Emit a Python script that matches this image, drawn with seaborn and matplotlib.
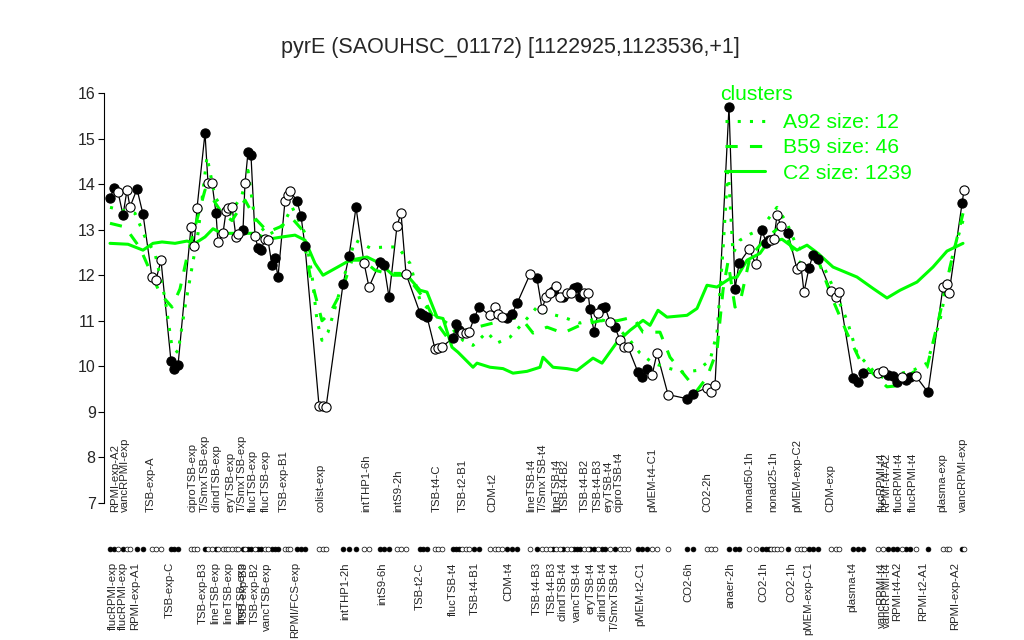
import matplotlib
matplotlib.use("Agg")
import matplotlib.pyplot as plt
import seaborn as sns
from matplotlib.lines import Line2D

# sample position along the x axis, expression value, filled (1) / open (0)
pos = [110, 114, 118, 123, 127, 130, 137, 143,
       152, 156, 161,
       171, 174, 178,
       191, 194, 197,
       205, 208, 212, 216, 218, 223, 226, 228, 232, 236, 238, 243, 245, 248, 251,
       255, 258, 261, 265, 268, 272, 275, 278,
       285, 288, 290,
       297, 301, 305,
       319, 323, 326,
       343, 349, 356,
       364, 369,
       380, 384, 389,
       397, 401, 406,
       420, 423, 427,
       435, 438, 442,
       453, 456, 459, 462, 466, 469, 474, 479,
       490, 495, 498, 502, 507, 512, 517,
       530,
       537, 542, 546, 550, 553, 556, 560, 563, 567, 571, 574, 577, 580, 584, 588,
       590, 594, 598, 602, 605, 610, 615, 620, 624, 628,
       638, 642, 647, 652, 657,
       668,
       687, 693,
       707, 711, 715,
       729, 735, 739,
       749, 756,
       762, 766, 769,
       771, 774, 777, 781,
       788,
       797, 801, 804,
       809, 813, 818,
       831, 836, 839,
       853, 858, 863,
       878, 883, 888, 893, 897, 902, 906, 910, 916,
       928,
       943, 947, 949,
       962, 964]
expr = [13.69, 13.91, 13.83, 13.32, 13.87, 13.50, 13.89, 13.34,
        11.96, 11.90, 12.33,
        10.11, 9.95, 10.02,
        13.06, 12.64, 13.47,
        15.12, 14.03, 14.03, 13.36, 12.72, 12.92, 13.40, 13.47, 13.50, 12.84, 12.90, 12.99, 14.02, 14.70, 14.63,
        12.86, 12.60, 12.55, 12.79, 12.77, 12.22, 12.37, 11.96,
        13.63, 13.76, 13.85,
        13.63, 13.30, 12.64,
        9.14, 9.12, 9.10,
        11.80, 12.42, 13.49,
        12.27, 11.74,
        12.29, 12.22, 11.52,
        13.08, 13.37, 12.03,
        11.17, 11.13, 11.09,
        10.38, 10.40, 10.43,
        10.62, 10.92, 10.80, 10.73, 10.73, 10.75, 11.05, 11.30,
        11.12, 11.30, 11.14, 11.08, 11.05, 11.14, 11.38,
        12.02,
        11.93, 11.26, 11.52, 11.60, 11.65, 11.76, 11.52, 11.52, 11.60, 11.62, 11.72, 11.74, 11.52, 11.60, 11.62,
        11.26, 10.76, 11.17, 11.28, 11.30, 10.98, 10.86, 10.57, 10.42, 10.42,
        9.87, 9.76, 9.95, 9.80, 10.29,
        9.38,
        9.29, 9.40,
        9.53, 9.43, 9.58,
        15.70, 11.69, 12.26,
        12.57, 12.24,
        13.00, 12.71, 12.77,
        12.77, 12.80, 13.32, 13.08,
        12.92,
        12.13, 12.20, 11.63,
        12.16, 12.45, 12.36,
        11.65, 11.52, 11.63,
        9.74, 9.65, 9.85,
        9.85, 9.90, 9.80, 9.78, 9.65, 9.76, 9.69, 9.76, 9.78,
        9.43,
        11.74, 11.81, 11.60,
        13.58, 13.87]
filled = [1, 1, 0, 1, 0, 0, 1, 1,
          0, 0, 0,
          1, 1, 1,
          0, 0, 0,
          1, 0, 0, 1, 0, 0, 0, 0, 0, 0, 0, 1, 0, 1, 1,
          0, 1, 1, 0, 0, 1, 1, 1,
          0, 0, 0,
          1, 1, 1,
          0, 0, 0,
          1, 1, 1,
          0, 0,
          1, 1, 1,
          0, 0, 0,
          1, 1, 1,
          0, 0, 0,
          1, 1, 1, 0, 0, 0, 1, 1,
          0, 0, 0, 0, 1, 1, 1,
          0,
          1, 0, 0, 0, 1, 0, 0, 1, 0, 0, 1, 1, 1, 0, 0,
          1, 1, 0, 1, 1, 0, 1, 0, 0, 0,
          1, 1, 1, 0, 0,
          0,
          1, 1,
          0, 0, 0,
          1, 1, 1,
          0, 0,
          1, 1, 1,
          0, 0, 0, 0,
          1,
          0, 0, 0,
          1, 1, 1,
          0, 0, 0,
          1, 1, 1,
          0, 0, 1, 1, 1, 0, 1, 1, 0,
          1,
          0, 0, 0,
          1, 0]

# cluster profiles
c2_pos = [110, 128, 143, 153, 162, 175, 187, 195, 205, 213, 222, 242, 255, 268, 282, 295, 305, 315,
          323, 350, 367, 380, 393, 407, 420, 427, 437, 443, 452, 458, 473, 477, 490, 503, 513, 527,
          540, 543, 553, 567, 577, 593, 602, 617, 630, 643, 650, 658, 667, 687, 697, 707, 717, 730,
          737, 747, 760, 767, 782, 797, 807, 818, 833, 857, 873, 887, 900, 917, 933, 947, 963]
c2_val = [12.70, 12.68, 12.55, 12.70, 12.73, 12.70, 12.75, 12.70, 12.84, 13.02, 12.92, 12.92, 12.92,
          12.79, 12.84, 12.88, 12.77, 12.26, 12.00, 12.33, 12.40, 12.26, 12.00, 12.00, 11.67, 11.63,
          11.08, 11.05, 10.42, 10.31, 9.98, 10.07, 9.98, 9.95, 9.85, 9.89, 9.98, 10.20, 9.98, 9.95,
          9.91, 10.18, 10.07, 10.53, 10.79, 11.01, 10.90, 11.23, 11.08, 11.12, 11.27, 11.78, 11.74,
          11.93, 11.96, 12.33, 12.48, 12.70, 12.79, 12.55, 12.66, 12.48, 12.18, 11.96, 11.71, 11.50,
          11.67, 11.85, 12.18, 12.53, 12.70]

b59_pos = [110, 125, 140, 150, 160, 172, 180, 188, 195, 205, 212, 222, 232, 245, 255, 268, 280, 292,
           302, 310, 316, 322, 330, 342, 352, 363, 375, 387, 400, 410, 423, 435, 447, 460, 477, 493,
           510, 523, 533, 547, 563, 580, 600, 617, 633, 643, 660, 670, 683, 697, 707, 717, 723, 728,
           735, 740, 750, 767, 780, 788, 797, 807, 817, 833, 847, 860, 873, 887, 900, 913, 927, 940,
           950, 963]
b59_val = [13.14, 13.06, 12.60, 12.10, 11.60, 11.30, 11.70, 12.50, 13.06, 13.87, 13.70, 13.36, 13.20,
           13.65, 13.25, 12.95, 13.06, 13.25, 13.00, 12.00, 11.50, 11.00, 11.17, 11.67, 12.33, 12.33,
           12.11, 12.04, 12.04, 11.89, 11.52, 11.00, 10.64, 10.75, 10.86, 10.95, 11.08, 11.01, 10.73,
           10.86, 10.73, 10.90, 11.00, 11.00, 11.08, 10.75, 10.75, 10.20, 9.85, 9.47, 9.76, 10.35,
           11.67, 12.30, 11.30, 11.40, 12.40, 12.84, 13.06, 12.77, 12.33, 12.18, 12.40, 11.45, 10.73,
           10.13, 9.84, 9.55, 9.58, 9.87, 9.98, 11.16, 12.18, 13.36]

a92_pos = [110, 135, 145, 155, 165, 172, 178, 185, 198, 207, 215, 228, 242, 248, 255, 268, 282, 292,
           305, 312, 317, 322, 328, 343, 355, 370, 387, 398, 410, 420, 432, 447, 463, 473, 487, 497,
           510, 523, 537, 547, 563, 580, 597, 613, 630, 640, 653, 670, 683, 697, 710, 717, 723, 728,
           733, 740, 750, 760, 767, 777, 787, 797, 810, 820, 833, 847, 857, 873, 887, 900, 913, 927,
           940, 953, 963]
a92_val = [13.49, 13.36, 12.84, 12.48, 11.50, 10.42, 10.30, 11.30, 12.92, 14.60, 13.72, 13.27, 13.76,
           14.30, 13.20, 12.88, 13.06, 13.50, 12.92, 12.00, 11.00, 10.57, 10.75, 11.89, 12.77, 12.60,
           12.62, 12.62, 12.26, 11.45, 11.17, 10.95, 10.57, 10.46, 10.75, 10.51, 10.64, 10.95, 11.30,
           11.17, 11.08, 10.95, 11.05, 10.95, 10.57, 10.29, 10.07, 9.95, 9.87, 9.91, 10.13, 10.73,
           12.55, 14.40, 12.48, 12.77, 12.90, 13.00, 13.20, 13.49, 13.14, 12.62, 12.48, 12.37, 11.74,
           11.01, 10.29, 9.91, 9.69, 9.84, 9.91, 10.07, 11.01, 12.48, 13.20]

top_pos = [115, 125, 151, 192, 205, 217, 230, 242, 253, 266, 284, 321, 366, 398, 437, 463, 492,
           531, 543, 556, 565, 585, 598, 609, 619, 652, 707, 749, 773, 797, 830, 882, 886, 899,
           913, 942, 963]
top_text = ["RPMI-exp-A2", "vancRPMI-exp", "TSB-exp-A", "ciproTSB-exp", "T/SmxTSB-exp",
            "clindTSB-exp", "eryTSB-exp", "T/SmxTSB-exp", "flucTSB-exp", "flucTSB-exp",
            "TSB-exp-B1", "colist-exp", "intTHP1-6h", "intS9-2h", "TSB-t4-C", "TSB-t2-B1",
            "CDM-t2", "lineTSB-t4", "T/SmxTSB-t4", "lineTSB-t4", "TSB-t4-B2", "TSB-t4-B2",
            "TSB-t4-B3", "eryTSB-t4", "ciproTSB-t4", "pMEM-t4-C1", "CO2-2h", "nonad50-1h",
            "nonad25-1h", "pMEM-exp-C2", "CDM-exp", "flucRPMI-t4", "RPMI-t4-A2", "flucRPMI-t4",
            "flucRPMI-t4", "plasma-exp", "vancRPMI-exp"]
bot_pos = [113, 123, 135, 170, 203, 215, 228, 241, 244, 255, 267, 295, 345, 382, 420, 453, 475,
           508, 537, 552, 563, 577, 590, 603, 615, 640, 688, 730, 763, 791, 808, 852, 882, 887,
           897, 923, 955]
bot_text = ["flucRPMI-exp", "flucRPMI-exp", "RPMI-exp-A1", "TSB-exp-C", "TSB-exp-B3",
            "lineTSB-exp", "lineTSB-exp", "lineTSB-exp", "TSB-exp-B3", "TSB-exp-B2",
            "vancTSB-exp", "RPMI/FCS-exp", "intTHP1-2h", "intS9-6h", "TSB-t2-C", "flucTSB-t4",
            "TSB-t4-B1", "CDM-t4", "TSB-t4-B3", "TSB-t4-B3", "clindTSB-t4", "vancTSB-t4",
            "eryTSB-t4", "clindTSB-t4", "T/SmxTSB-t4", "pMEM-t2-C1", "CO2-6h", "anaer-2h",
            "CO2-1h", "CO2-1h", "pMEM-exp-C1", "plasma-t4", "vancRPMI-t4", "vancRPMI-t4",
            "RPMI-t4-A2", "RPMI-t2-A1", "RPMI-exp-A2"]

title = "pyrE (SAOUHSC_01172) [1122925,1123536,+1]"
GREEN = "#00ff00"

sns.set_theme(style="white")
plt.rcParams["font.family"] = ["Liberation Sans", "DejaVu Sans"]

fig = plt.figure(figsize=(10.24, 6.4), dpi=100)
L, R, T, B = 104, 975, 93, 503
ax = fig.add_axes([L / 1024, 1 - B / 640, (R - L) / 1024, (B - T) / 640])

full = [p for p, f in zip(pos, filled) if f]
full_y = [v for v, f in zip(expr, filled) if f]
hollow = [p for p, f in zip(pos, filled) if not f]
hollow_y = [v for v, f in zip(expr, filled) if not f]

sns.lineplot(x=pos, y=expr, ax=ax, color="black", lw=0.9, sort=False, estimator=None, zorder=2)
sns.lineplot(x=a92_pos, y=a92_val, ax=ax, color=GREEN, lw=2.2, ls=(0, (1, 3)), sort=False,
             estimator=None, zorder=3)
sns.lineplot(x=b59_pos, y=b59_val, ax=ax, color=GREEN, lw=2.2, ls=(0, (4, 4)), sort=False,
             estimator=None, zorder=3)
sns.lineplot(x=c2_pos, y=c2_val, ax=ax, color=GREEN, lw=2.2, sort=False, estimator=None, zorder=3)
sns.scatterplot(x=full, y=full_y, ax=ax, color="black", edgecolor="black", s=44, lw=0.8, zorder=4)
sns.scatterplot(x=hollow, y=hollow_y, ax=ax, color="white", edgecolor="black", s=44, lw=0.8, zorder=4)

# strip of sample markers under the axis
sns.scatterplot(x=full, y=[6.0] * len(full), ax=ax, color="black", edgecolor="black", s=12,
                lw=0.5, clip_on=False, zorder=4)
sns.scatterplot(x=hollow, y=[6.0] * len(hollow), ax=ax, color="white", edgecolor="black", s=12,
                lw=0.5, clip_on=False, zorder=4)

for x, t in zip(top_pos, top_text):
    ax.text(x, 6.8, t, rotation=90, ha="center", va="bottom", fontsize=8.2, clip_on=False)
for x, t in zip(bot_pos, bot_text):
    ax.text(x, 5.7, t, rotation=90, ha="center", va="top", fontsize=8.2, clip_on=False)

ax.set_xlim(L, R)
ax.set_ylim(7, 16)
ax.set_yticks(range(7, 17))
ax.set_xticks([])
ax.set_xlabel("")
ax.set_ylabel("")
for s in ["top", "right", "bottom"]:
    ax.spines[s].set_visible(False)
ax.spines["left"].set_color("black")
ax.spines["left"].set_linewidth(0.8)
ax.tick_params(axis="y", direction="out", length=4, width=0.8, color="black", labelsize=11.5, pad=2,
               left=True)
ax.grid(False)

handles = [Line2D([], [], color=GREEN, lw=2.2, ls=(0, (1, 3))),
           Line2D([], [], color=GREEN, lw=2.2, ls=(0, (4, 4))),
           Line2D([], [], color=GREEN, lw=2.2)]
leg = ax.legend(handles, ["A92 size: 12", "B59 size: 46", "C2 size: 1239"],
                loc="upper left", bbox_to_anchor=(725 / 1024, 1 - 113 / 640),
                bbox_transform=fig.transFigure, frameon=False, fontsize=15.2,
                handlelength=1.9, handletextpad=0.85, labelspacing=0.3,
                borderpad=0, borderaxespad=0)
for t in leg.get_texts():
    t.set_color(GREEN)
fig.text(720 / 1024, 1 - 94 / 640, "clusters", ha="left", va="center", fontsize=15.2, color=GREEN)

fig.text(510 / 1024, 1 - 47 / 640, title, ha="center", va="center", fontsize=15.5)

fig.savefig("out.png", dpi=100)
